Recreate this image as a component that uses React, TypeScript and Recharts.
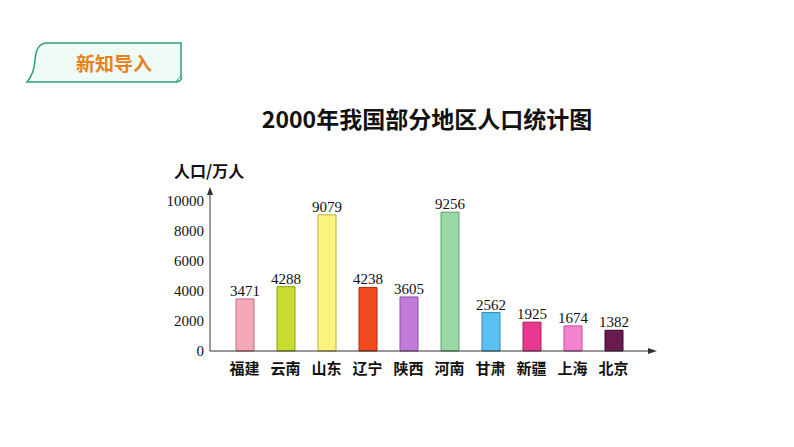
import React from "react";
import { BarChart, Bar, XAxis, YAxis, Cell, LabelList, Customized } from "recharts";

const regions = ["福建", "云南", "山东", "辽宁", "陕西", "河南", "甘肃", "新疆", "上海", "北京"];
const population = [3471, 4288, 9079, 4238, 3605, 9256, 2562, 1925, 1674, 1382];
const barColors = ["#f5a8b8", "#c6dc30", "#faf47e", "#f24a1e", "#c07cd8", "#9ad8a6", "#5cc0f2", "#e8388e", "#f482cc", "#6a1a50"];
const barStrokes = ["#c07080", "#8aa018", "#b8b040", "#b02810", "#8a50a8", "#60a070", "#2a88b8", "#a82060", "#c050a0", "#3a0828"];
const yTicks = [0, 2000, 4000, 6000, 8000, 10000];

const data = regions.map((r, i) => ({ region: r, value: population[i] }));

const W = 794;
const H = 447;
const XH = 30;
const M = { top: 189, right: 144, bottom: 66, left: 160 };
const YW = 50;
const CJK = "'Noto Sans CJK SC', 'Noto Sans', sans-serif";
const SERIF = "'Liberation Serif', 'DejaVu Serif', serif";

const Decor = () => {
  const x0 = M.left + YW;
  const y0 = H - M.bottom - XH;
  const xEnd = W - M.right;
  return (
    <g>
      {/* badge */}
      <path
        d="M46 43 L181 43 L181 76 Q183 80 177 82 L27 82 Q34 74 35 60 Q36 44 46 43 Z"
        fill="#effbf5"
        stroke="#2f9e72"
        strokeWidth={1.5}
      />
      <path d="M176 82 Q178 78 181 76" fill="none" stroke="#2f9e72" strokeWidth={1} />
      <text x={114} y={71} textAnchor="middle" fontFamily={CJK} fontWeight={700} fontSize={19} fill="#e8801e">
        新知导入
      </text>
      {/* title */}
      <text x={427} y={128} textAnchor="middle" fontFamily={CJK} fontWeight={700} fontSize={23} fill="#111">
        2000年我国部分地区人口统计图
      </text>
      {/* unit */}
      <text x={174} y={177} fontFamily={CJK} fontWeight={700} fontSize={16} fill="#111">
        人口/万人
      </text>
      {/* arrows */}
      <path d={`M${x0 - 3} ${M.top + 6} L${x0} ${M.top - 2} L${x0 + 3} ${M.top + 6} Z`} fill="#333" />
      <path d={`M${xEnd - 2} ${y0 - 3} L${xEnd + 7} ${y0} L${xEnd - 2} ${y0 + 3} Z`} fill="#333" />
    </g>
  );
};

export default function App() {
  return (
    <div style={{ position: "absolute", left: 0, top: 0, width: W, height: H, background: "#fff" }}>
      <BarChart width={W} height={H} data={data} margin={M}>
        <XAxis
          dataKey="region"
          height={XH}
          padding={{ left: 14, right: 16 }}
          axisLine={{ stroke: "#333", strokeWidth: 1 }}
          tickLine={false}
          tickMargin={6}
          interval={0}
          tick={{ fontFamily: CJK, fontWeight: 700, fontSize: 15, fill: "#111" }}
        />
        <YAxis
          width={YW}
          domain={[0, 10800]}
          ticks={yTicks}
          axisLine={{ stroke: "#333", strokeWidth: 1 }}
          tickLine={false}
          tickMargin={0}
          interval={0}
          tick={{ fontFamily: SERIF, fontSize: 15, fill: "#111" }}
        />
        <Bar dataKey="value" barSize={18} isAnimationActive={false}>
          {data.map((d, i) => (
            <Cell key={d.region} fill={barColors[i]} stroke={barStrokes[i]} strokeWidth={1} />
          ))}
          <LabelList dataKey="value" position="top" offset={3} style={{ fontFamily: SERIF, fontSize: 15, fill: "#111" }} />
        </Bar>
        <Customized component={<Decor />} />
      </BarChart>
    </div>
  );
}
